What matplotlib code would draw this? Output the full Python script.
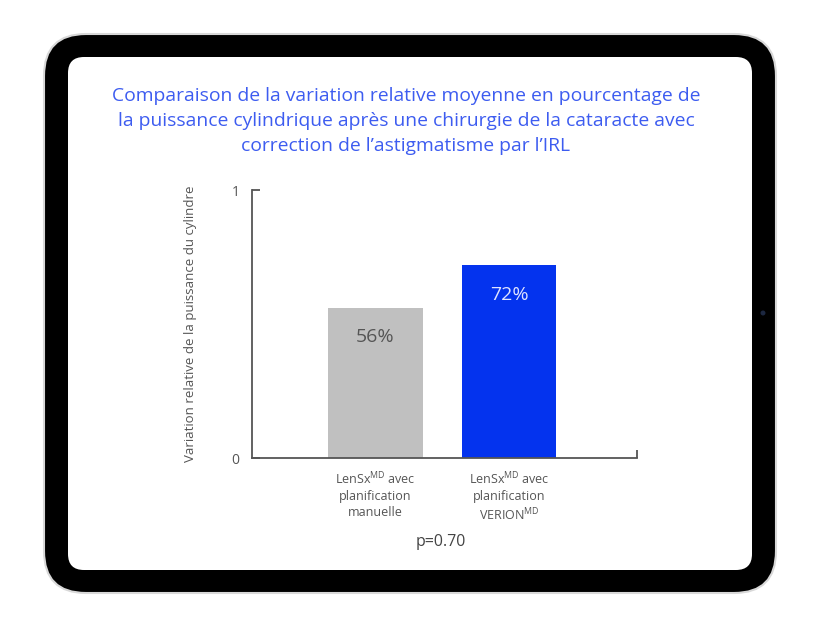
import matplotlib
matplotlib.use('Agg')
import matplotlib.pyplot as plt
from matplotlib.patches import FancyBboxPatch, Circle

plt.rcParams['font.family'] = ['Open Sans', 'DejaVu Sans']

# data
categories = ['LenSx$^{\\mathregular{MD}}$ avec\nplanification\nmanuelle',
              'LenSx$^{\\mathregular{MD}}$ avec\nplanification\nVERION$^{\\mathregular{MD}}$']
values = [0.56, 0.72]
value_labels = ['56%', '72%']
bar_colors = ['#c0c0c0', '#0433ee']
label_colors = ['#555555', '#dfe3ff']
y_ticks = [0, 1]
title = ("Comparaison de la variation relative moyenne en pourcentage de\n"
         "la puissance cylindrique après une chirurgie de la cataracte avec\n"
         "correction de l’astigmatisme par l’IRL")
y_label = 'Variation relative de la puissance du cylindre'
p_text = 'p=0.70'

fig = plt.figure(figsize=(8.21, 6.29), dpi=100)

# tablet frame drawn in pixel coordinates
bg = fig.add_axes([0, 0, 1, 1])
bg.set_xlim(0, 821)
bg.set_ylim(629, 0)
bg.axis('off')
bg.add_patch(FancyBboxPatch((44, 34), 732, 559,
                            boxstyle='round,pad=0,rounding_size=42',
                            fc='#000000', ec='#d8d8d8', lw=1.5))
bg.add_patch(FancyBboxPatch((68, 57), 684, 513,
                            boxstyle='round,pad=0,rounding_size=16',
                            fc='white', ec='none'))
bg.add_patch(Circle((763, 313), 2.5, fc='#1c2740', ec='none'))

bg.text(406, 121, title, ha='center', va='center', fontsize=13.9,
        color='#3d5cf0', linespacing=1.5)

ax = fig.add_axes([252 / 821, 1 - 458 / 629, 385 / 821, 268 / 629])
x = range(len(values))
bars = ax.bar(x, values, width=0.71, color=bar_colors)
for xi, v, lab, c in zip(x, values, value_labels, label_colors):
    ax.text(xi, v - 0.11, lab, ha='center', va='center', fontsize=14, color=c)

ax.set_xlim(-0.925, 1.959)
ax.set_ylim(0, 1)
ax.set_yticks(y_ticks)
ax.set_yticklabels([str(t) for t in y_ticks])
ax.set_xticks(list(x))
ax.set_xticklabels(categories, fontsize=9, color='#555555', linespacing=1.3)
ax.set_xticks([1.959], minor=True)
ax.tick_params(axis='x', which='major', length=0, pad=9)
ax.tick_params(axis='x', which='minor', direction='in', length=6,
               width=1.3, color='#555555')
ax.tick_params(axis='y', direction='in', length=6, width=1.3,
               color='#555555', labelcolor='#555555', labelsize=10, pad=9)
for s in ['top', 'right']:
    ax.spines[s].set_visible(False)
for s in ['left', 'bottom']:
    ax.spines[s].set_color('#555555')
    ax.spines[s].set_linewidth(1.3)

ax.set_ylabel(y_label, fontsize=9.5, color='#555555', labelpad=25)

bg.text(441, 542, p_text, ha='center', va='center', fontsize=11.5,
        color='#444444')

fig.savefig('out.png', dpi=100)
